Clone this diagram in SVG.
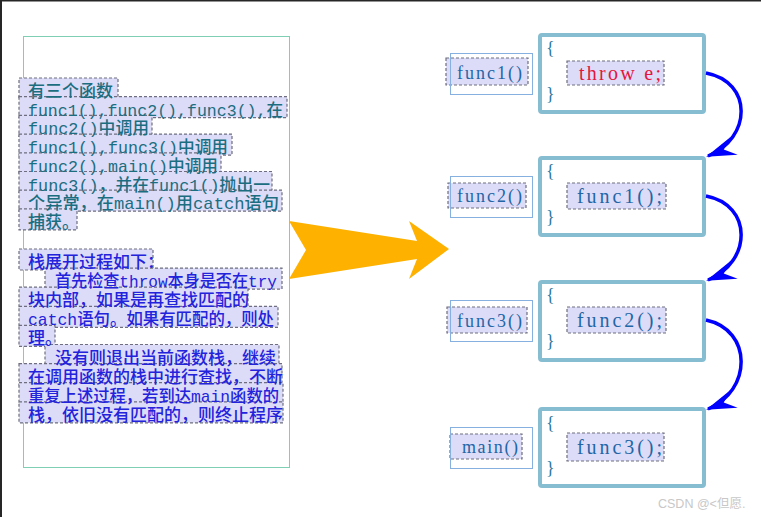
<svg xmlns="http://www.w3.org/2000/svg" width="761" height="517" viewBox="0 0 761 517">
<style>
.hl{fill:#dcdcf9;stroke:#6e6e80;stroke-width:1.2;stroke-dasharray:3 2}
.lt{font-family:'Liberation Mono','Noto Sans CJK SC',monospace;font-size:17px;font-weight:500}
.t1{fill:#1b6e80}
.t2{fill:#2323dc}
.lab{fill:none;stroke:#86b0e0;stroke-width:1}
.code{fill:#fff;stroke:#86bdd1;stroke-width:4}
.rt{font-family:'Liberation Serif','Noto Sans CJK SC',serif;fill:#2266a6}
.br{font-family:'Liberation Serif',serif;font-size:18px;fill:#2a78a0}
.conn{fill:none;stroke:#0000ff;stroke-width:3.5}
</style>
<defs>
<marker id="ah" viewBox="-32 -12 36 24" refX="0" refY="0" markerWidth="36" markerHeight="24" markerUnits="userSpaceOnUse" orient="auto">
<path d="M2,0 L-28,-10 L-17,0 L-28,9 Z" fill="#0000ff"/>
</marker>
</defs>
<rect x="0" y="0" width="761" height="517" fill="#fff"/>
<rect x="0" y="0" width="761" height="1.5" fill="#262626"/>
<rect x="0" y="0" width="2" height="517" fill="#262626"/>

<g id="textbox">
<rect x="23.5" y="36.5" width="266" height="431" fill="none" stroke="#7fcfb5" stroke-width="1"/>
<rect class="hl" x="19" y="78" width="99" height="21"/>
<rect class="hl" x="19" y="96.7" width="268" height="21"/>
<rect class="hl" x="19" y="115.4" width="133" height="21"/>
<rect class="hl" x="19" y="134.1" width="213" height="21"/>
<rect class="hl" x="19" y="152.8" width="202" height="21"/>
<rect class="hl" x="19" y="171.5" width="253" height="21"/>
<rect class="hl" x="19" y="190.2" width="263" height="21"/>
<rect class="hl" x="19" y="208.9" width="58" height="21"/>
<text class="lt t1" x="28" y="97">有三个函数</text>
<text class="lt t1" x="28" y="115.7" textLength="255" lengthAdjust="spacingAndGlyphs">func1(),func2(),func3(),在</text>
<text class="lt t1" x="28" y="134.4" textLength="121" lengthAdjust="spacingAndGlyphs">func2()中调用</text>
<text class="lt t1" x="28" y="153.1" textLength="200" lengthAdjust="spacingAndGlyphs">func1(),func3()中调用</text>
<text class="lt t1" x="28" y="171.8" textLength="190" lengthAdjust="spacingAndGlyphs">func2(),main()中调用</text>
<text class="lt t1" x="28" y="190.5" textLength="242" lengthAdjust="spacingAndGlyphs">func3()，并在func1()抛出一</text>
<text class="lt t1" x="28" y="209.2" textLength="251" lengthAdjust="spacingAndGlyphs">个异常，在main()用catch语句</text>
<text class="lt t1" x="28" y="227.9">捕获。</text>

<rect class="hl" x="19" y="249" width="134" height="21"/>
<rect class="hl" x="45" y="268.1" width="237" height="21"/>
<rect class="hl" x="19" y="287.2" width="229" height="21"/>
<rect class="hl" x="19" y="306.3" width="259" height="21"/>
<rect class="hl" x="19" y="325.4" width="36" height="21"/>
<rect class="hl" x="45" y="344.5" width="234" height="21"/>
<rect class="hl" x="19" y="363.6" width="263" height="21"/>
<rect class="hl" x="19" y="382.7" width="264" height="21"/>
<rect class="hl" x="19" y="401.8" width="264" height="21"/>
<text class="lt t2" x="28" y="268">栈展开过程如下：</text>
<text class="lt t2" x="55" y="287.1" textLength="222" lengthAdjust="spacingAndGlyphs">首先检查throw本身是否在try</text>
<text class="lt t2" x="28" y="306.2">块内部，如果是再查找匹配的</text>
<text class="lt t2" x="28" y="325.3" textLength="246" lengthAdjust="spacingAndGlyphs">catch语句。如果有匹配的，则处</text>
<text class="lt t2" x="28" y="344.4">理。</text>
<text class="lt t2" x="55" y="363.5">没有则退出当前函数栈，继续</text>
<text class="lt t2" x="28" y="382.6">在调用函数的栈中进行查找，不断</text>
<text class="lt t2" x="28" y="401.7" textLength="251" lengthAdjust="spacingAndGlyphs">重复上述过程，若到达main函数的</text>
<text class="lt t2" x="28" y="420.8">栈，依旧没有匹配的，则终止程序</text>
</g>

<g id="bigarrow">
<polygon points="289,221 417,241 409,221 449,249 409,279 417,259 289,279 306,250" fill="#ffb100"/>
</g>

<g id="func1">
<rect class="hl" x="446" y="58" width="82" height="27"/>
<rect class="lab" x="450.5" y="53.5" width="82" height="41"/>
<text class="rt" x="457" y="79" font-size="18" textLength="65" lengthAdjust="spacing">func1()</text>
<rect class="code" x="540" y="35" width="164" height="77" rx="2"/>
<text class="br" x="546" y="54">{</text>
<text class="br" x="546" y="100">}</text>
<rect class="hl" x="567" y="61" width="97" height="24"/>
<text class="rt" x="579" y="80" font-size="20" style="fill:#e5163c" textLength="82" lengthAdjust="spacing">throw e;</text>
</g>

<g id="func2">
<rect class="hl" x="448" y="183" width="78" height="25"/>
<rect class="lab" x="450.5" y="176.5" width="82" height="41"/>
<text class="rt" x="457" y="202" font-size="18" textLength="65" lengthAdjust="spacing">func2()</text>
<rect class="code" x="540" y="158" width="164" height="77" rx="2"/>
<text class="br" x="546" y="177">{</text>
<text class="br" x="546" y="223">}</text>
<rect class="hl" x="567" y="183" width="99" height="26"/>
<text class="rt" x="577" y="203" font-size="20" textLength="85" lengthAdjust="spacing">func1();</text>
</g>

<g id="func3">
<rect class="hl" x="447" y="307" width="80" height="26"/>
<rect class="lab" x="450.5" y="300.5" width="82" height="41"/>
<text class="rt" x="457" y="327" font-size="18" textLength="65" lengthAdjust="spacing">func3()</text>
<rect class="code" x="540" y="282" width="164" height="78" rx="2"/>
<text class="br" x="546" y="301">{</text>
<text class="br" x="546" y="347">}</text>
<rect class="hl" x="567" y="307" width="99" height="26"/>
<text class="rt" x="577" y="327" font-size="20" textLength="85" lengthAdjust="spacing">func2();</text>
</g>

<g id="main">
<rect class="hl" x="450" y="434" width="72" height="25"/>
<rect class="lab" x="450.5" y="427.5" width="82" height="41"/>
<text class="rt" x="462" y="453" font-size="18" textLength="56" lengthAdjust="spacing">main()</text>
<rect class="code" x="540" y="409" width="164" height="77" rx="2"/>
<text class="br" x="546" y="429">{</text>
<text class="br" x="546" y="474">}</text>
<rect class="hl" x="567" y="433" width="97" height="28"/>
<text class="rt" x="577" y="454" font-size="20" textLength="85" lengthAdjust="spacing">func3();</text>
</g>

<g id="connectors">
<path class="conn" d="M706,73 C753,82 752,138 708,156" marker-end="url(#ah)"/>
<path class="conn" d="M706,196 C753,205 752,262 708,280" marker-end="url(#ah)"/>
<path class="conn" d="M706,320 C753,330 752,391 708,409" marker-end="url(#ah)"/>
</g>

<text x="658" y="508" font-family="'Liberation Sans','Noto Sans CJK SC',sans-serif" font-size="12.5" fill="#c8c8c8">CSDN @&lt;但愿.</text>
</svg>
